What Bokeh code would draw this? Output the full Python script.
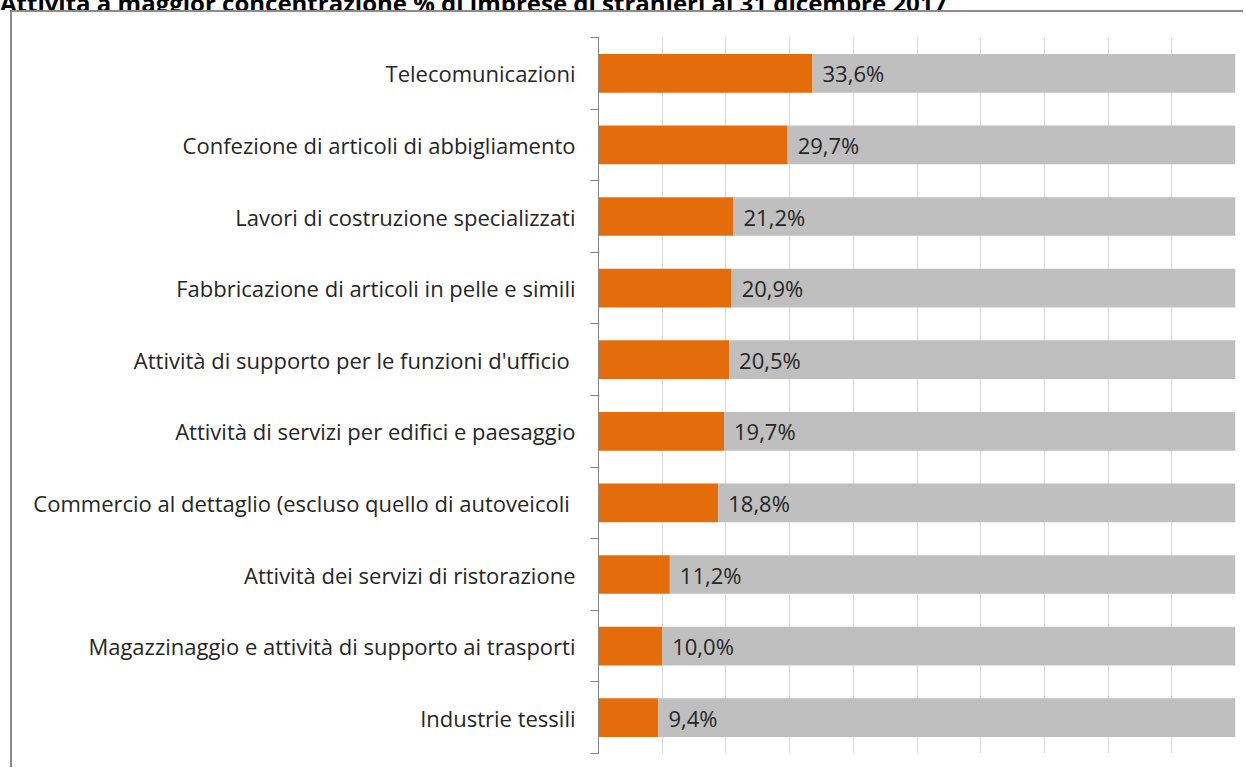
from bokeh.plotting import figure
from bokeh.models import ColumnDataSource, FixedTicker, Div
from bokeh.layouts import column
from bokeh.core.properties import value
from bokeh.embed import file_html
from bokeh.resources import INLINE

title_text = "Attività a maggior concentrazione % di imprese di stranieri al 31 dicembre 2017"
categories = [
    "Telecomunicazioni",
    "Confezione di articoli di abbigliamento",
    "Lavori di costruzione specializzati",
    "Fabbricazione di articoli in pelle e simili",
    "Attività di supporto per le funzioni d'ufficio ",
    "Attività di servizi per edifici e paesaggio",
    "Commercio al dettaglio (escluso quello di autoveicoli ",
    "Attività dei servizi di ristorazione",
    "Magazzinaggio e attività di supporto ai trasporti",
    "Industrie tessili",
]
values = [33.6, 29.7, 21.2, 20.9, 20.5, 19.7, 18.8, 11.2, 10.0, 9.4]
total = 100.0
grid_ticks = list(range(0, 101, 10))

n = len(categories)
ypos = [n - i - 0.5 for i in range(n)]
source = ColumnDataSource(dict(
    y=ypos,
    v=values,
    rest_end=[total] * n,
    lab=[("%.1f%%" % v).replace(".", ",") for v in values],
))

FONT = "Open Sans"
p = figure(
    width=1231, height=755,
    x_range=(0, total), y_range=(0, n),
    output_backend="svg", toolbar_location=None,
    min_border_left=586, min_border_right=10,
    min_border_top=25, min_border_bottom=16,
)
p.frame_width = 635
p.frame_height = 714
p.outline_line_color = None
p.background_fill_color = "white"
p.border_fill_color = "white"

p.hbar(y="y", left=0, right="v", height=0.54, source=source,
       fill_color="#E46C0A", line_color=None)
p.hbar(y="y", left="v", right="rest_end", height=0.54, source=source,
       fill_color="#BFBFBF", line_color=None)
p.text(x="v", y="y", text="lab", source=source, x_offset=10,
       text_baseline="middle", text_align="left",
       text_font=value(FONT), text_font_size="22px", text_color="#262626")

p.xaxis.visible = False
p.xgrid.ticker = FixedTicker(ticks=grid_ticks)
p.xgrid.grid_line_color = "#D9D9D9"
p.xgrid.grid_line_width = 1
p.ygrid.grid_line_color = None

yax = p.yaxis[0]
yax.ticker = FixedTicker(ticks=ypos, minor_ticks=list(range(0, n + 1)))
yax.major_label_overrides = {y: c for y, c in zip(ypos, categories)}
yax.major_tick_out = 0
yax.major_tick_in = 0
yax.minor_tick_out = 8
yax.minor_tick_in = 0
yax.minor_tick_line_color = "#868686"
yax.axis_line_color = "#868686"
yax.axis_line_width = 1
yax.major_label_standoff = 15
yax.major_label_text_font = FONT
yax.major_label_text_font_size = "22px"
yax.major_label_text_color = "#262626"
p.styles = {"margin-left": "10px",
            "border-left": "2px solid #8C8C8C", "border-top": "2px solid #8C8C8C"}

title = Div(
    text='<div style="margin-top:-15px; white-space:nowrap; font-family:\'Open Sans\'; '
         'font-weight:bold; font-size:24px; line-height:24px; color:#000;">'
         + title_text + '</div>',
    width=1246, height=10,
    styles={"overflow": "hidden", "margin": "0", "padding": "0"})

layout = column(title, p, spacing=0)
open("out.html", "w").write(file_html(layout, INLINE))
